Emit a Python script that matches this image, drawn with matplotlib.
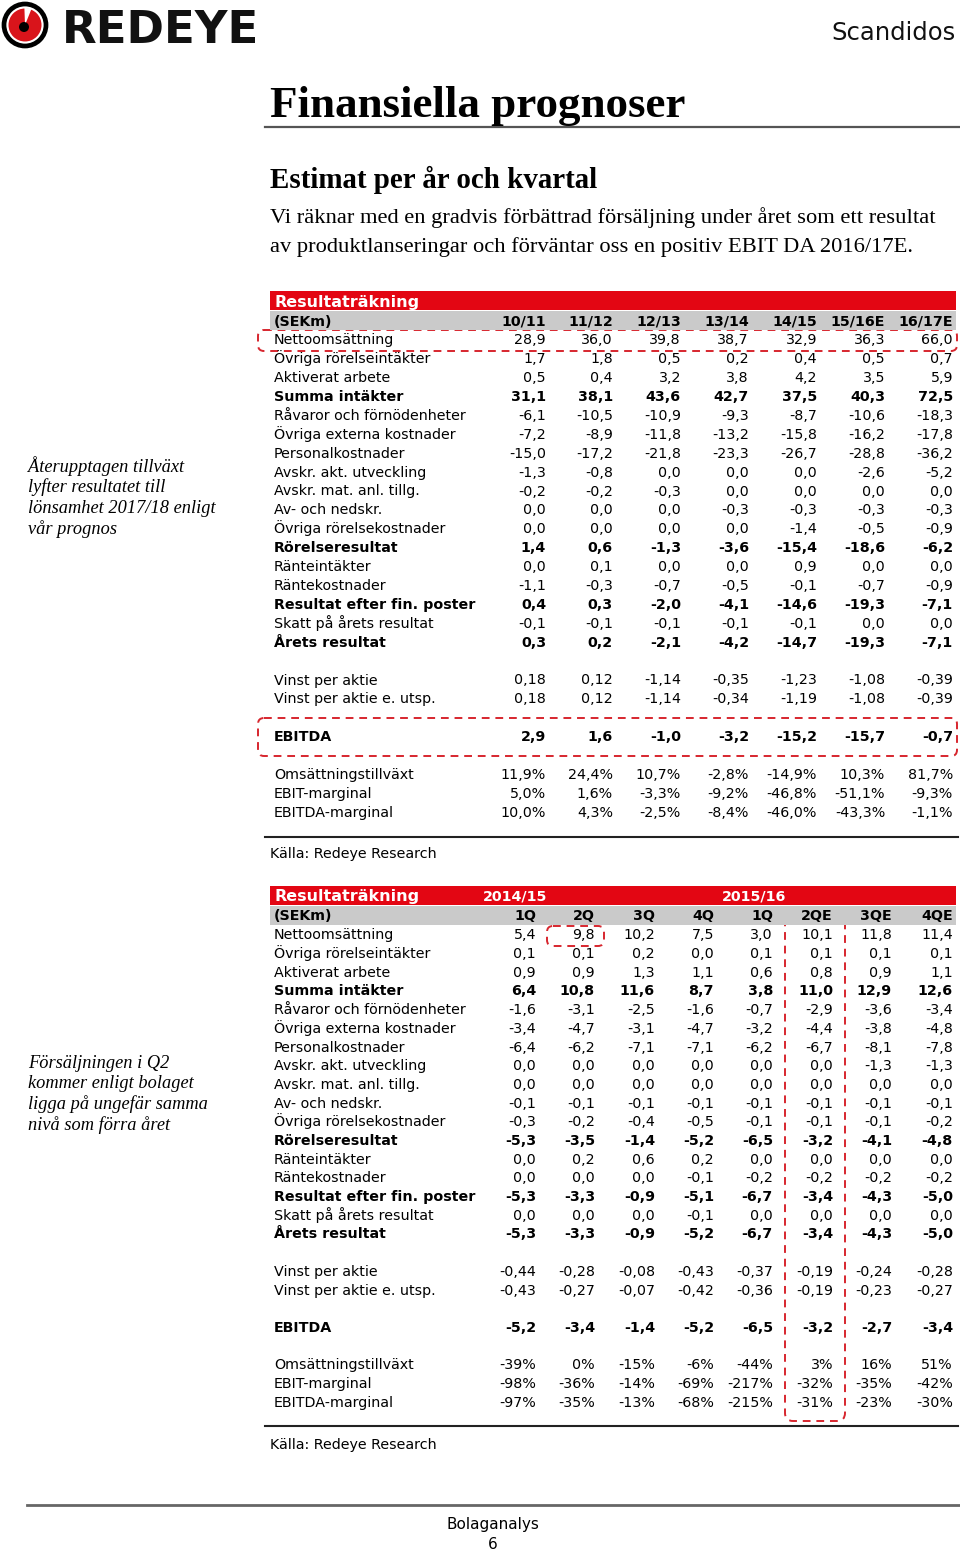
import matplotlib.pyplot as plt
from matplotlib.patches import Circle, Wedge, Rectangle, FancyBboxPatch

# ---------------- data ----------------
years = ["10/11", "11/12", "12/13", "13/14", "14/15", "15/16E", "16/17E"]

labels_1 = [
    "Nettoomsättning", "Övriga rörelseintäkter", "Aktiverat arbete", "Summa intäkter",
    "Råvaror och förnödenheter", "Övriga externa kostnader", "Personalkostnader",
    "Avskr. akt. utveckling", "Avskr. mat. anl. tillg.", "Av- och nedskr.",
    "Övriga rörelsekostnader", "Rörelseresultat", "Ränteintäkter", "Räntekostnader",
    "Resultat efter fin. poster", "Skatt på årets resultat", "Årets resultat",
]
bold_rows = {"Summa intäkter", "Rörelseresultat", "Resultat efter fin. poster",
             "Årets resultat", "EBITDA"}

year_values = [
    [28.9, 36.0, 39.8, 38.7, 32.9, 36.3, 66.0],
    [1.7, 1.8, 0.5, 0.2, 0.4, 0.5, 0.7],
    [0.5, 0.4, 3.2, 3.8, 4.2, 3.5, 5.9],
    [31.1, 38.1, 43.6, 42.7, 37.5, 40.3, 72.5],
    [-6.1, -10.5, -10.9, -9.3, -8.7, -10.6, -18.3],
    [-7.2, -8.9, -11.8, -13.2, -15.8, -16.2, -17.8],
    [-15.0, -17.2, -21.8, -23.3, -26.7, -28.8, -36.2],
    [-1.3, -0.8, 0.0, 0.0, 0.0, -2.6, -5.2],
    [-0.2, -0.2, -0.3, 0.0, 0.0, 0.0, 0.0],
    [0.0, 0.0, 0.0, -0.3, -0.3, -0.3, -0.3],
    [0.0, 0.0, 0.0, 0.0, -1.4, -0.5, -0.9],
    [1.4, 0.6, -1.3, -3.6, -15.4, -18.6, -6.2],
    [0.0, 0.1, 0.0, 0.0, 0.9, 0.0, 0.0],
    [-1.1, -0.3, -0.7, -0.5, -0.1, -0.7, -0.9],
    [0.4, 0.3, -2.0, -4.1, -14.6, -19.3, -7.1],
    [-0.1, -0.1, -0.1, -0.1, -0.1, 0.0, 0.0],
    [0.3, 0.2, -2.1, -4.2, -14.7, -19.3, -7.1],
]
year_eps = [0.18, 0.12, -1.14, -0.35, -1.23, -1.08, -0.39]
year_eps_dil = [0.18, 0.12, -1.14, -0.34, -1.19, -1.08, -0.39]
year_ebitda = [2.9, 1.6, -1.0, -3.2, -15.2, -15.7, -0.7]
year_growth = [11.9, 24.4, 10.7, -2.8, -14.9, 10.3, 81.7]
year_ebit_m = [5.0, 1.6, -3.3, -9.2, -46.8, -51.1, -9.3]
year_ebitda_m = [10.0, 4.3, -2.5, -8.4, -46.0, -43.3, -1.1]

quarters = ["1Q", "2Q", "3Q", "4Q", "1Q", "2QE", "3QE", "4QE"]
q_values = [
    [5.4, 9.8, 10.2, 7.5, 3.0, 10.1, 11.8, 11.4],
    [0.1, 0.1, 0.2, 0.0, 0.1, 0.1, 0.1, 0.1],
    [0.9, 0.9, 1.3, 1.1, 0.6, 0.8, 0.9, 1.1],
    [6.4, 10.8, 11.6, 8.7, 3.8, 11.0, 12.9, 12.6],
    [-1.6, -3.1, -2.5, -1.6, -0.7, -2.9, -3.6, -3.4],
    [-3.4, -4.7, -3.1, -4.7, -3.2, -4.4, -3.8, -4.8],
    [-6.4, -6.2, -7.1, -7.1, -6.2, -6.7, -8.1, -7.8],
    [0.0, 0.0, 0.0, 0.0, 0.0, 0.0, -1.3, -1.3],
    [0.0, 0.0, 0.0, 0.0, 0.0, 0.0, 0.0, 0.0],
    [-0.1, -0.1, -0.1, -0.1, -0.1, -0.1, -0.1, -0.1],
    [-0.3, -0.2, -0.4, -0.5, -0.1, -0.1, -0.1, -0.2],
    [-5.3, -3.5, -1.4, -5.2, -6.5, -3.2, -4.1, -4.8],
    [0.0, 0.2, 0.6, 0.2, 0.0, 0.0, 0.0, 0.0],
    [0.0, 0.0, 0.0, -0.1, -0.2, -0.2, -0.2, -0.2],
    [-5.3, -3.3, -0.9, -5.1, -6.7, -3.4, -4.3, -5.0],
    [0.0, 0.0, 0.0, -0.1, 0.0, 0.0, 0.0, 0.0],
    [-5.3, -3.3, -0.9, -5.2, -6.7, -3.4, -4.3, -5.0],
]
q_eps = [-0.44, -0.28, -0.08, -0.43, -0.37, -0.19, -0.24, -0.28]
q_eps_dil = [-0.43, -0.27, -0.07, -0.42, -0.36, -0.19, -0.23, -0.27]
q_ebitda = [-5.2, -3.4, -1.4, -5.2, -6.5, -3.2, -2.7, -3.4]
q_growth = [-39, 0, -15, -6, -44, 3, 16, 51]
q_ebit_m = [-98, -36, -14, -69, -217, -32, -35, -42]
q_ebitda_m = [-97, -35, -13, -68, -215, -31, -23, -30]

RED = "#e30613"
GREY_BAND = "#cacaca"
DASH_RED = "#d7262e"
SANS = "DejaVu Sans"
SERIF = "Liberation Serif"
FS = 10.3


def fmt(v, dec=1, pct=False):
    s = f"{v:.{dec}f}".replace(".", ",")
    return s + "%" if pct else s


fig = plt.figure(figsize=(9.6, 15.53), dpi=100)
ax = fig.add_axes([0, 0, 1, 1])
ax.set_xlim(0, 960)
ax.set_ylim(1553, 0)
ax.axis("off")

# ---------------- header / logo ----------------
ax.add_patch(Circle((25, 25), 21, facecolor="white", edgecolor="black", lw=3.4))
ax.add_patch(Circle((25, 25), 16.5, facecolor="#d9141b", edgecolor="none"))
ax.add_patch(Wedge((25, 25), 17, 268, 292, facecolor="white", edgecolor="none"))
ax.add_patch(Circle((24, 27), 5, facecolor="black", edgecolor="none"))
ax.text(62, 43, "REDEYE", fontsize=32.5, fontweight="bold", family=SANS, color="#111111")
ax.text(956, 40, "Scandidos", fontsize=17.5, family=SANS, ha="right", color="#111111")

ax.text(270, 117, "Finansiella prognoser", fontsize=32.4, fontweight="bold", family=SERIF)
ax.plot([265, 960], [127, 127], color="#555555", lw=1.6)
ax.text(270, 188, "Estimat per år och kvartal", fontsize=20.9, fontweight="bold", family=SERIF)
ax.text(270, 223, "Vi räknar med en gradvis förbättrad försäljning under året som ett resultat",
        fontsize=16.2, family=SERIF)
ax.text(270, 252, "av produktlanseringar och förväntar oss en positiv EBIT DA 2016/17E.",
        fontsize=16.2, family=SERIF)

side1 = ["Återupptagen tillväxt", "lyfter resultatet till",
         "lönsamhet 2017/18 enligt", "vår prognos"]
for i, s in enumerate(side1):
    ax.text(28, 472 + i * 20.5, s, fontsize=13.2, style="italic", family=SERIF)
side2 = ["Försäljningen i Q2", "kommer enligt bolaget",
         "ligga på ungefär samma", "nivå som förra året"]
for i, s in enumerate(side2):
    ax.text(28, 1068 + i * 20.5, s, fontsize=13.2, style="italic", family=SERIF)


def draw_table(top, step, col_right, heads, values, eps, eps_dil, ebitda,
               growth, ebit_m, ebitda_m, pct_dec):
    # red and grey bands
    ax.add_patch(Rectangle((270, top), 686, 19, facecolor=RED, edgecolor="none", zorder=3))
    ax.add_patch(Rectangle((270, top + 20), 686, 18.5, facecolor=GREY_BAND,
                           edgecolor="none", zorder=3))
    ax.text(274, top + 15.5, "Resultaträkning", fontsize=11.5, fontweight="bold",
            color="white", family=SANS, zorder=5)
    hb = top + 34.5
    ax.text(274, hb, "(SEKm)", fontsize=FS, fontweight="bold", family=SANS, zorder=5)
    for x, h in zip(col_right, heads):
        ax.text(x, hb, h, fontsize=FS, fontweight="bold", family=SANS, ha="right", zorder=5)

    base = top + 53.3

    def row(k, label, vals, dec=1, pct=False):
        y = base + k * step
        w = "bold" if label in bold_rows else "normal"
        ax.text(274, y, label, fontsize=FS, fontweight=w, family=SANS, zorder=5)
        for x, v in zip(col_right, vals):
            ax.text(x, y, fmt(v, dec, pct), fontsize=FS, fontweight=w, family=SANS,
                    ha="right", zorder=5)

    for k, (lab, vals) in enumerate(zip(labels_1, values)):
        row(k, lab, vals)
    row(18, "Vinst per aktie", eps, 2)
    row(19, "Vinst per aktie e. utsp.", eps_dil, 2)
    row(21, "EBITDA", ebitda)
    row(23, "Omsättningstillväxt", growth, pct_dec, True)
    row(24, "EBIT-marginal", ebit_m, pct_dec, True)
    row(25, "EBITDA-marginal", ebitda_m, pct_dec, True)
    return base


def dashed_box(x0, y0, x1, y1, r=6):
    ax.add_patch(FancyBboxPatch((x0, y0), x1 - x0, y1 - y0,
                                boxstyle=f"round,pad=0,rounding_size={r}",
                                facecolor="none", edgecolor=DASH_RED, lw=1.4,
                                linestyle=(0, (4, 3)), zorder=2))


# ---------------- table 1 ----------------
cols1 = [546, 613, 681, 749, 817, 885, 953]
draw_table(291, 18.9, cols1, years, year_values, year_eps, year_eps_dil, year_ebitda,
           year_growth, year_ebit_m, year_ebitda_m, 1)
dashed_box(258, 330, 957, 351)
dashed_box(258, 718, 957, 756)
ax.plot([265, 958], [837, 837], color="#222222", lw=1.5)
ax.text(270, 858, "Källa: Redeye Research", fontsize=FS, family=SANS)

# ---------------- table 2 ----------------
cols2 = [536, 595, 655, 714, 773, 833, 892, 953]
draw_table(886, 18.7, cols2, quarters, q_values, q_eps, q_eps_dil, q_ebitda,
           q_growth, q_ebit_m, q_ebitda_m, 0)
ax.text(483, 901, "2014/15", fontsize=FS, fontweight="bold", color="white",
        family=SANS, zorder=5)
ax.text(722, 901, "2015/16", fontsize=FS, fontweight="bold", color="white",
        family=SANS, zorder=5)
dashed_box(547, 926, 604, 946)
dashed_box(785, 916, 845, 1421, r=8)
ax.plot([265, 958], [1426, 1426], color="#222222", lw=1.5)
ax.text(270, 1449, "Källa: Redeye Research", fontsize=FS, family=SANS)

# ---------------- footer ----------------
ax.plot([27, 960], [1505, 1505], color="#666666", lw=2)
ax.text(493, 1529, "Bolaganalys", fontsize=11, family=SANS, ha="center")
ax.text(493, 1549, "6", fontsize=11, family=SANS, ha="center")

fig.savefig("out.png", dpi=100)
